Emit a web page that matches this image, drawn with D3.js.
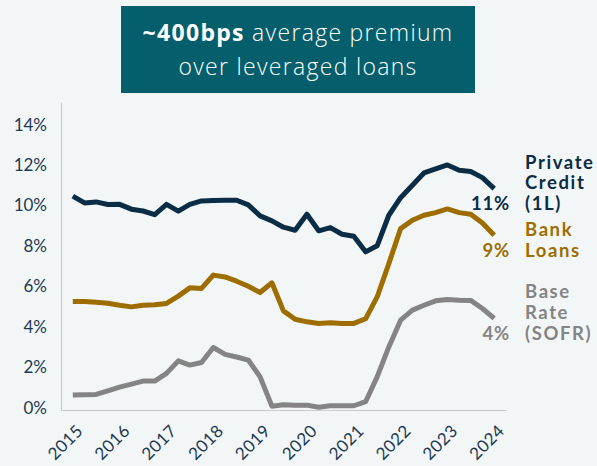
<!DOCTYPE html>
<html>
<head>
<meta charset="utf-8">
<script src="https://cdn.jsdelivr.net/npm/d3@7"></script>
<style>
  html, body { margin: 0; padding: 0; background: #f3f6f7; }
  svg { display: block; }
</style>
</head>
<body>
<svg id="chart" width="597" height="466"></svg>
<script>
// Quarterly observations, Q4 2014 through Q4 2023
const quarters = d3.timeMonth.every(3).range(new Date(2014, 9, 1), new Date(2024, 0, 1));

// Yields, in percent
const privateCredit = [10.50, 10.16, 10.21, 10.08, 10.09, 9.85, 9.76, 9.58, 10.09, 9.75,
  10.09, 10.26, 10.28, 10.29, 10.29, 10.06, 9.52, 9.27, 8.96, 8.81,
  9.60, 8.78, 8.94, 8.61, 8.51, 7.74, 8.04, 9.55, 10.42, 11.03,
  11.64, 11.84, 12.04, 11.77, 11.71, 11.41, 10.87];
const bankLoans = [5.29, 5.29, 5.25, 5.20, 5.10, 5.02, 5.10, 5.12, 5.19, 5.55,
  5.96, 5.93, 6.59, 6.50, 6.29, 6.04, 5.73, 6.21, 4.82, 4.41,
  4.28, 4.20, 4.23, 4.20, 4.20, 4.43, 5.51, 7.16, 8.89, 9.30,
  9.55, 9.68, 9.86, 9.68, 9.60, 9.17, 8.56];
const baseRate = [0.66, 0.67, 0.69, 0.87, 1.05, 1.20, 1.35, 1.35, 1.73, 2.35,
  2.14, 2.27, 3.01, 2.67, 2.54, 2.39, 1.56, 0.11, 0.18, 0.16,
  0.16, 0.06, 0.13, 0.13, 0.13, 0.33, 1.56, 3.04, 4.36, 4.86,
  5.10, 5.32, 5.38, 5.35, 5.34, 4.94, 4.45];

const yearTicks = [2015, 2016, 2017, 2018, 2019, 2020, 2021, 2022, 2023, 2024];
const yTicks = [0, 2, 4, 6, 8, 10, 12, 14];

const seriesNames = [["Private", "Credit", "(1L)"], ["Bank", "Loans"], ["Base", "Rate", "(SOFR)"]];
const seriesValues = [privateCredit, bankLoans, baseRate];
const seriesColors = ["#0b2c45", "#9e6d00", "#848484"];

const svg = d3.select("#chart");
const labelFont = "Lato, 'Open Sans', sans-serif";
const axisColor = "#1d3a52";

// Plot frame
const plotLeft = 61, plotRight = 506, plotTop = 102, plotBottom = 410;

const x = d3.scaleTime()
  .domain([new Date(2014, 6, 1), new Date(2024, 0, 1)])
  .range([plotLeft, plotRight]);
const y = d3.scaleLinear()
  .domain([-0.08, 15.15])
  .range([plotBottom, plotTop]);

// Title banner
const banner = svg.append("g");
banner.append("rect")
  .attr("x", 121).attr("y", 6).attr("width", 354).attr("height", 87)
  .attr("fill", "#055e6b");
const t1 = banner.append("text")
  .attr("x", 298).attr("y", 41)
  .attr("text-anchor", "middle")
  .attr("fill", "#ffffff")
  .style("font-family", "'Open Sans', sans-serif")
  .style("font-size", "23px")
  .style("letter-spacing", "1.3px");
t1.append("tspan").style("font-weight", 700).text("~400bps");
t1.append("tspan").style("font-weight", 300).text(" average premium");
banner.append("text")
  .attr("x", 298).attr("y", 75)
  .attr("text-anchor", "middle")
  .attr("fill", "#ffffff")
  .style("font-family", "'Open Sans', sans-serif")
  .style("font-size", "23px")
  .style("font-weight", 300)
  .style("letter-spacing", "1.3px")
  .text("over leveraged loans");

// Y axis
const yAxis = svg.append("g")
  .attr("transform", `translate(${plotLeft},0)`)
  .call(d3.axisLeft(y).tickValues(yTicks).tickSize(0).tickPadding(14)
    .tickFormat(d => d + "%"));
yAxis.select(".domain").attr("stroke", "#c9cccf").attr("stroke-width", 1.2);
yAxis.selectAll("text")
  .attr("dy", "0.28em")
  .attr("fill", axisColor)
  .style("font-family", labelFont)
  .style("font-size", "17px");

// X axis
const xAxis = svg.append("g")
  .attr("transform", `translate(0,${plotBottom})`)
  .call(d3.axisBottom(x)
    .tickValues(yearTicks.map(yr => new Date(yr, 0, 1)))
    .tickSize(0)
    .tickFormat(d3.timeFormat("%Y")));
xAxis.select(".domain").attr("stroke", "#c9cccf").attr("stroke-width", 1.2);
xAxis.selectAll("text")
  .attr("x", 0).attr("y", 0).attr("dy", 0)
  .attr("text-anchor", "end")
  .attr("transform", "translate(-1,22) rotate(-45)")
  .attr("fill", axisColor)
  .style("font-family", labelFont)
  .style("font-size", "17px")
  .style("letter-spacing", "0.4px");

// Series lines
const line = d3.line()
  .x((d, i) => x(quarters[i]))
  .y(d => y(d));

seriesValues.forEach((vals, k) => {
  svg.append("path")
    .datum(vals)
    .attr("d", line)
    .attr("fill", "none")
    .attr("stroke", seriesColors[k])
    .attr("stroke-width", 5)
    .attr("stroke-linejoin", "round");
});

// End labels: latest value and series name
const pct = d3.format(".0%");
const lineH = 20.7;
seriesValues.forEach((vals, k) => {
  const last = vals[vals.length - 1];
  const baseY = y(last) + 21.5;
  svg.append("text")
    .attr("x", 510).attr("y", baseY)
    .attr("text-anchor", "end")
    .attr("fill", seriesColors[k])
    .style("font-family", labelFont)
    .style("font-weight", 700)
    .style("font-size", "18.5px")
    .style("letter-spacing", "0.8px")
    .text(pct(last / 100));
  const names = seriesNames[k];
  const nt = svg.append("text")
    .attr("fill", seriesColors[k])
    .style("font-family", labelFont)
    .style("font-weight", 700)
    .style("font-size", "18.5px")
    .style("letter-spacing", "1.6px");
  names.forEach((s, j) => {
    nt.append("tspan")
      .attr("x", 525)
      .attr("y", baseY - (names.length - 1 - j) * lineH)
      .text(s);
  });
});
</script>
</body>
</html>
